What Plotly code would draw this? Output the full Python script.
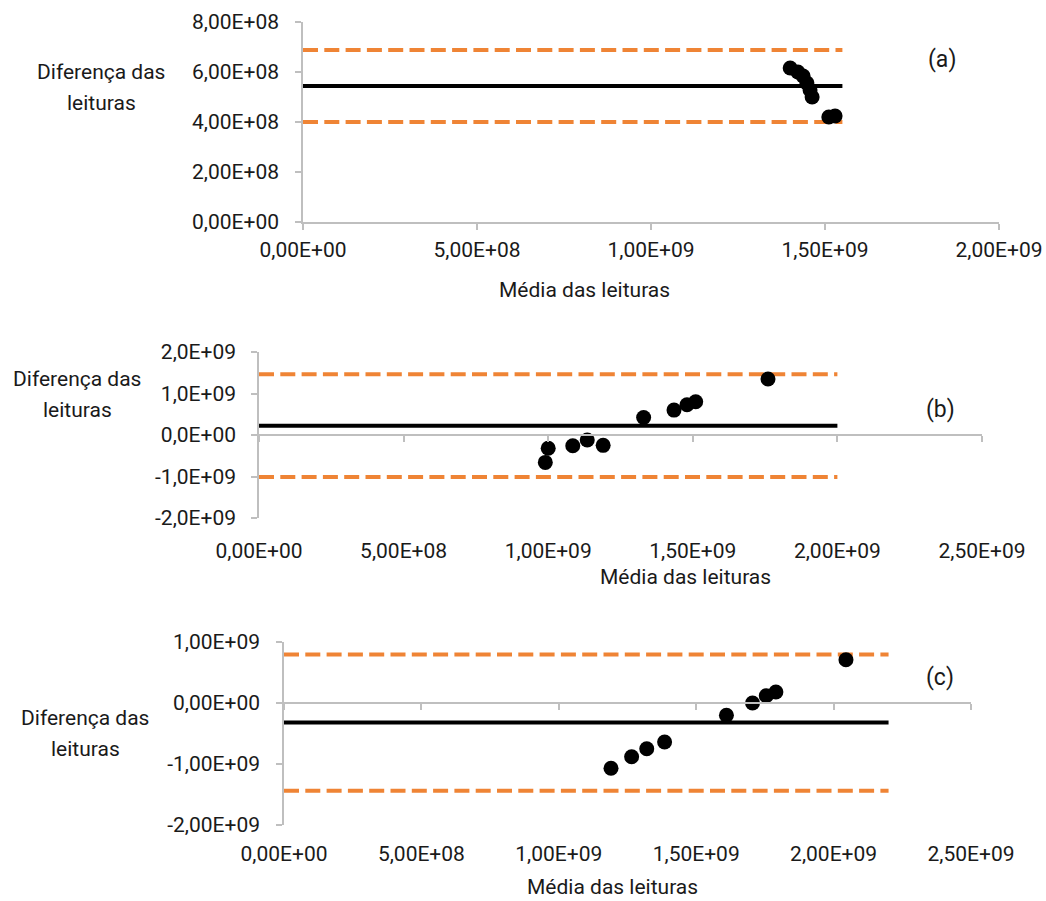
import plotly.graph_objects as go

# ---------------- data ----------------
# Panel (a)
a_mean = [1.400e9, 1.422e9, 1.437e9, 1.448e9, 1.457e9, 1.463e9, 1.511e9, 1.529e9]
a_diff = [6.16e8, 6.00e8, 5.84e8, 5.56e8, 5.28e8, 5.00e8, 4.20e8, 4.24e8]
a_bias = 5.44e8
a_upper = 6.88e8
a_lower = 4.00e8
a_line_x = [0, 1.55e9]

# Panel (b)
b_mean = [0.99e9, 1.00e9, 1.085e9, 1.135e9, 1.19e9, 1.33e9, 1.435e9, 1.48e9, 1.51e9, 1.76e9]
b_diff = [-0.66e9, -0.32e9, -0.26e9, -0.12e9, -0.25e9, 0.42e9, 0.60e9, 0.73e9, 0.80e9, 1.35e9]
b_bias = 0.225e9
b_upper = 1.465e9
b_lower = -1.01e9
b_line_x = [0, 2.0e9]

# Panel (c)
c_mean = [1.19e9, 1.265e9, 1.32e9, 1.385e9, 1.61e9, 1.705e9, 1.755e9, 1.79e9, 2.045e9]
c_diff = [-1.07e9, -0.88e9, -0.75e9, -0.64e9, -0.20e9, 0.0, 0.12e9, 0.18e9, 0.71e9]
c_bias = -0.32e9
c_upper = 0.795e9
c_lower = -1.44e9
c_line_x = [0, 2.2e9]

# Tick values / labels
a_xticks = [0, 5e8, 1e9, 1.5e9, 2e9]
a_xlabels = ["0,00E+00", "5,00E+08", "1,00E+09", "1,50E+09", "2,00E+09"]
a_yticks = [0, 2e8, 4e8, 6e8, 8e8]
a_ylabels = ["0,00E+00", "2,00E+08", "4,00E+08", "6,00E+08", "8,00E+08"]

bc_xticks = [0, 5e8, 1e9, 1.5e9, 2e9, 2.5e9]
bc_xlabels = ["0,00E+00", "5,00E+08", "1,00E+09", "1,50E+09", "2,00E+09", "2,50E+09"]
b_yticks = [-2e9, -1e9, 0, 1e9, 2e9]
b_ylabels = ["-2,0E+09", "-1,0E+09", "0,0E+00", "1,0E+09", "2,0E+09"]
c_yticks = [-2e9, -1e9, 0, 1e9]
c_ylabels = ["-2,00E+09", "-1,00E+09", "0,00E+00", "1,00E+09"]

x_title = "Média das leituras"
y_title_lines = ["Diferença das", "leituras"]
panel_tags = ["(a)", "(b)", "(c)"]

# ---------------- style ----------------
W, H = 1046, 901
FONT = "Roboto, 'Open Sans', Arial, sans-serif"
TXT = "#1a1a1a"
AX = "#BFBFBF"
ORANGE = "#EF8435"

def px_x(p):
    return p / W

def px_y(p):
    return 1 - p / H

dom = {
    "a": dict(x=[px_x(303), px_x(999)], y=[px_y(222), px_y(22)]),
    "b": dict(x=[px_x(259), px_x(982)], y=[px_y(518), px_y(352)]),
    "c": dict(x=[px_x(284), px_x(971)], y=[px_y(825), px_y(642)]),
}

fig = go.Figure()

panels = [
    ("a", "x", "y", a_mean, a_diff, a_bias, a_upper, a_lower, a_line_x),
    ("b", "x2", "y2", b_mean, b_diff, b_bias, b_upper, b_lower, b_line_x),
    ("c", "x3", "y3", c_mean, c_diff, c_bias, c_upper, c_lower, c_line_x),
]

for key, xa, ya, mx, dy, bias, up, lo, lx in panels:
    for lvl in (up, lo):
        fig.add_trace(go.Scatter(
            x=lx, y=[lvl, lvl], mode="lines", xaxis=xa, yaxis=ya,
            line=dict(color=ORANGE, width=4, dash="15px,6.3px"),
            hoverinfo="skip", showlegend=False))
    fig.add_trace(go.Scatter(
        x=lx, y=[bias, bias], mode="lines", xaxis=xa, yaxis=ya,
        line=dict(color="black", width=4), hoverinfo="skip", showlegend=False))
    fig.add_trace(go.Scatter(
        x=mx, y=dy, mode="markers", xaxis=xa, yaxis=ya,
        marker=dict(color="black", size=15, line=dict(width=0)),
        showlegend=False))

# invisible traces so the zero-line axes of (b) and (c) get drawn
fig.add_trace(go.Scatter(x=[None], y=[None], xaxis="x4", yaxis="y2", showlegend=False))
fig.add_trace(go.Scatter(x=[None], y=[None], xaxis="x5", yaxis="y3", showlegend=False))

tickfont = dict(family=FONT, size=21, color=TXT)

common_axis = dict(
    showgrid=False, zeroline=False, tickfont=tickfont, automargin=False,
    linecolor=AX, linewidth=1.5, tickcolor=AX, tickwidth=1.5,
    fixedrange=True,
)

layout = dict(
    template="none",
    width=W, height=H, margin=dict(l=0, r=0, t=0, b=0, autoexpand=False),
    paper_bgcolor="white", plot_bgcolor="rgba(0,0,0,0)",
    showlegend=False,
    # panel (a)
    xaxis=dict(common_axis, domain=dom["a"]["x"], anchor="y", range=[0, 2e9],
               tickvals=a_xticks, ticktext=a_xlabels, showline=True,
               ticks="outside", ticklen=6, ticklabelstandoff=2),
    yaxis=dict(common_axis, domain=dom["a"]["y"], anchor="x", range=[0, 8e8],
               tickvals=a_yticks, ticktext=a_ylabels, showline=True,
               ticks="outside", ticklen=6, ticklabelstandoff=12),
    # panel (b): labels at the bottom, axis line through zero
    xaxis2=dict(common_axis, domain=dom["b"]["x"], anchor="y2", range=[0, 2.5e9],
                tickvals=bc_xticks, ticktext=bc_xlabels, showline=False,
                ticks="", ticklabelstandoff=18),
    yaxis2=dict(common_axis, domain=dom["b"]["y"], anchor="x2", range=[-2e9, 2e9],
                tickvals=b_yticks, ticktext=b_ylabels, showline=True,
                ticks="outside", ticklen=6, ticklabelstandoff=11),
    xaxis4=dict(common_axis, domain=dom["b"]["x"], overlaying="x2", anchor="free",
                position=dom["b"]["y"][0] + 0.5 * (dom["b"]["y"][1] - dom["b"]["y"][0]),
                range=[0, 2.5e9], tickvals=bc_xticks, showticklabels=False,
                showline=True, ticks="outside", ticklen=6, side="bottom"),
    # panel (c)
    xaxis3=dict(common_axis, domain=dom["c"]["x"], anchor="y3", range=[0, 2.5e9],
                tickvals=bc_xticks, ticktext=bc_xlabels, showline=False,
                ticks="", ticklabelstandoff=14),
    yaxis3=dict(common_axis, domain=dom["c"]["y"], anchor="x3", range=[-2e9, 1e9],
                tickvals=c_yticks, ticktext=c_ylabels, showline=True,
                ticks="outside", ticklen=6, ticklabelstandoff=12),
    xaxis5=dict(common_axis, domain=dom["c"]["x"], overlaying="x3", anchor="free",
                position=dom["c"]["y"][0] + (2 / 3) * (dom["c"]["y"][1] - dom["c"]["y"][0]),
                range=[0, 2.5e9], tickvals=bc_xticks, showticklabels=False,
                showline=True, ticks="outside", ticklen=6, side="bottom"),
)
fig.update_layout(**layout)

title_font = dict(family=FONT, size=21, color=TXT)
tag_font = dict(family=FONT, size=23, color=TXT)

annotations = []
# x-axis titles
for cx, cy in [(584, 290), (685, 577), (612, 887)]:
    annotations.append(dict(text=x_title, x=px_x(cx), y=px_y(cy), xref="paper", yref="paper",
                            showarrow=False, font=title_font, xanchor="center", yanchor="middle"))
# y-axis titles (two lines each)
for cx, cy in [(101, 72), (77, 379), (85, 718)]:
    for i, line in enumerate(y_title_lines):
        annotations.append(dict(text=line, x=px_x(cx), y=px_y(cy + 31 * i),
                                xref="paper", yref="paper", showarrow=False,
                                font=title_font, xanchor="center", yanchor="middle"))
# panel tags
for tag, (cx, cy) in zip(panel_tags, [(942, 60), (940, 410), (940, 677)]):
    annotations.append(dict(text=tag, x=px_x(cx), y=px_y(cy), xref="paper", yref="paper",
                            showarrow=False, font=tag_font, xanchor="center", yanchor="middle"))

fig.update_layout(annotations=annotations)
fig.write_html("out.html")
